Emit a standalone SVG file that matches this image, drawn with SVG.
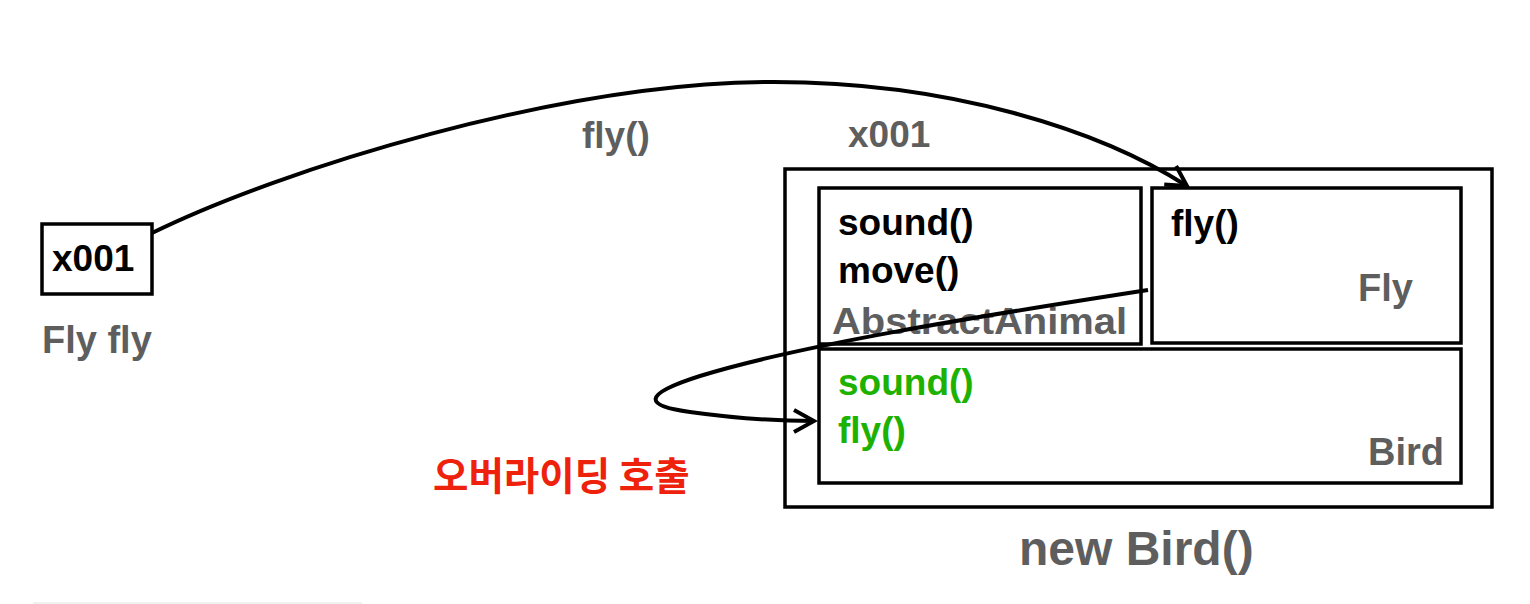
<svg xmlns="http://www.w3.org/2000/svg" width="1530" height="604" viewBox="0 0 1530 604">
<style>
text{font-family:"Liberation Sans",Arial,sans-serif;font-weight:bold;font-size:37px}
.blk{fill:#000}
.gry{fill:#5e5e5e}
.lbl{font-size:38px}
.grn{fill:#1db100}
.red{fill:#ee220c;font-family:"Noto Sans CJK KR","Liberation Sans",sans-serif;font-size:38.5px}
.box{fill:none;stroke:#000;stroke-width:3.5}
.conn{fill:none;stroke:#000;stroke-width:4}
</style>
<defs>
<marker id="arr" viewBox="-26 -15 30 30" refX="0" refY="0" markerWidth="30" markerHeight="30" markerUnits="userSpaceOnUse" orient="auto">
<path d="M-20,-11 L0,0 L-20,11" fill="none" stroke="#000" stroke-width="4"/>
</marker>
</defs>
<rect width="1530" height="604" fill="#fff"/>
<line x1="33" y1="603" x2="362" y2="603" stroke="#ececec" stroke-width="1.5"/>

<g id="ref-var">
<rect class="box" x="42" y="224" width="110" height="70"/>
<text class="blk" x="52" y="271">x001</text>
<text class="gry lbl" x="42" y="353">Fly fly</text>
</g>

<g id="labels">
<text class="gry" x="582" y="148">fly()</text>
<text class="gry" x="848" y="147">x001</text>
<text class="red" x="433" y="490">오버라이딩 호출</text>
</g>

<g id="bird-instance">
<rect class="box" x="785" y="169" width="707" height="338"/>
<text class="gry" x="1019" y="565" style="font-size:48px">new Bird()</text>
</g>

<g id="abstract-animal">
<rect class="box" x="819" y="188" width="322" height="156"/>
<text class="blk" x="838" y="235">sound()</text>
<text class="blk" x="838" y="283">move()</text>
<text class="gry" x="832" y="334" textLength="295" lengthAdjust="spacingAndGlyphs">AbstractAnimal</text>
</g>

<g id="fly">
<rect class="box" x="1152" y="188" width="309" height="155"/>
<text class="blk" x="1171" y="236">fly()</text>
<text class="gry lbl" x="1358" y="301">Fly</text>
</g>

<g id="bird">
<rect class="box" x="819" y="349" width="642" height="134"/>
<text class="grn" x="838" y="395">sound()</text>
<text class="grn" x="838" y="443">fly()</text>
<text class="gry lbl" x="1444" y="465" text-anchor="end">Bird</text>
</g>

<g id="connectors">
<path class="conn" d="M152,233 C280,170 560,82 774,82 C950,82 1100,130 1187,186" marker-end="url(#arr)"/>
<path class="conn" d="M1148,290 C980,316 800,345 700,376 C640,395 645,406 690,412 C740,419 790,421 814,421" marker-end="url(#arr)"/>
</g>
</svg>
